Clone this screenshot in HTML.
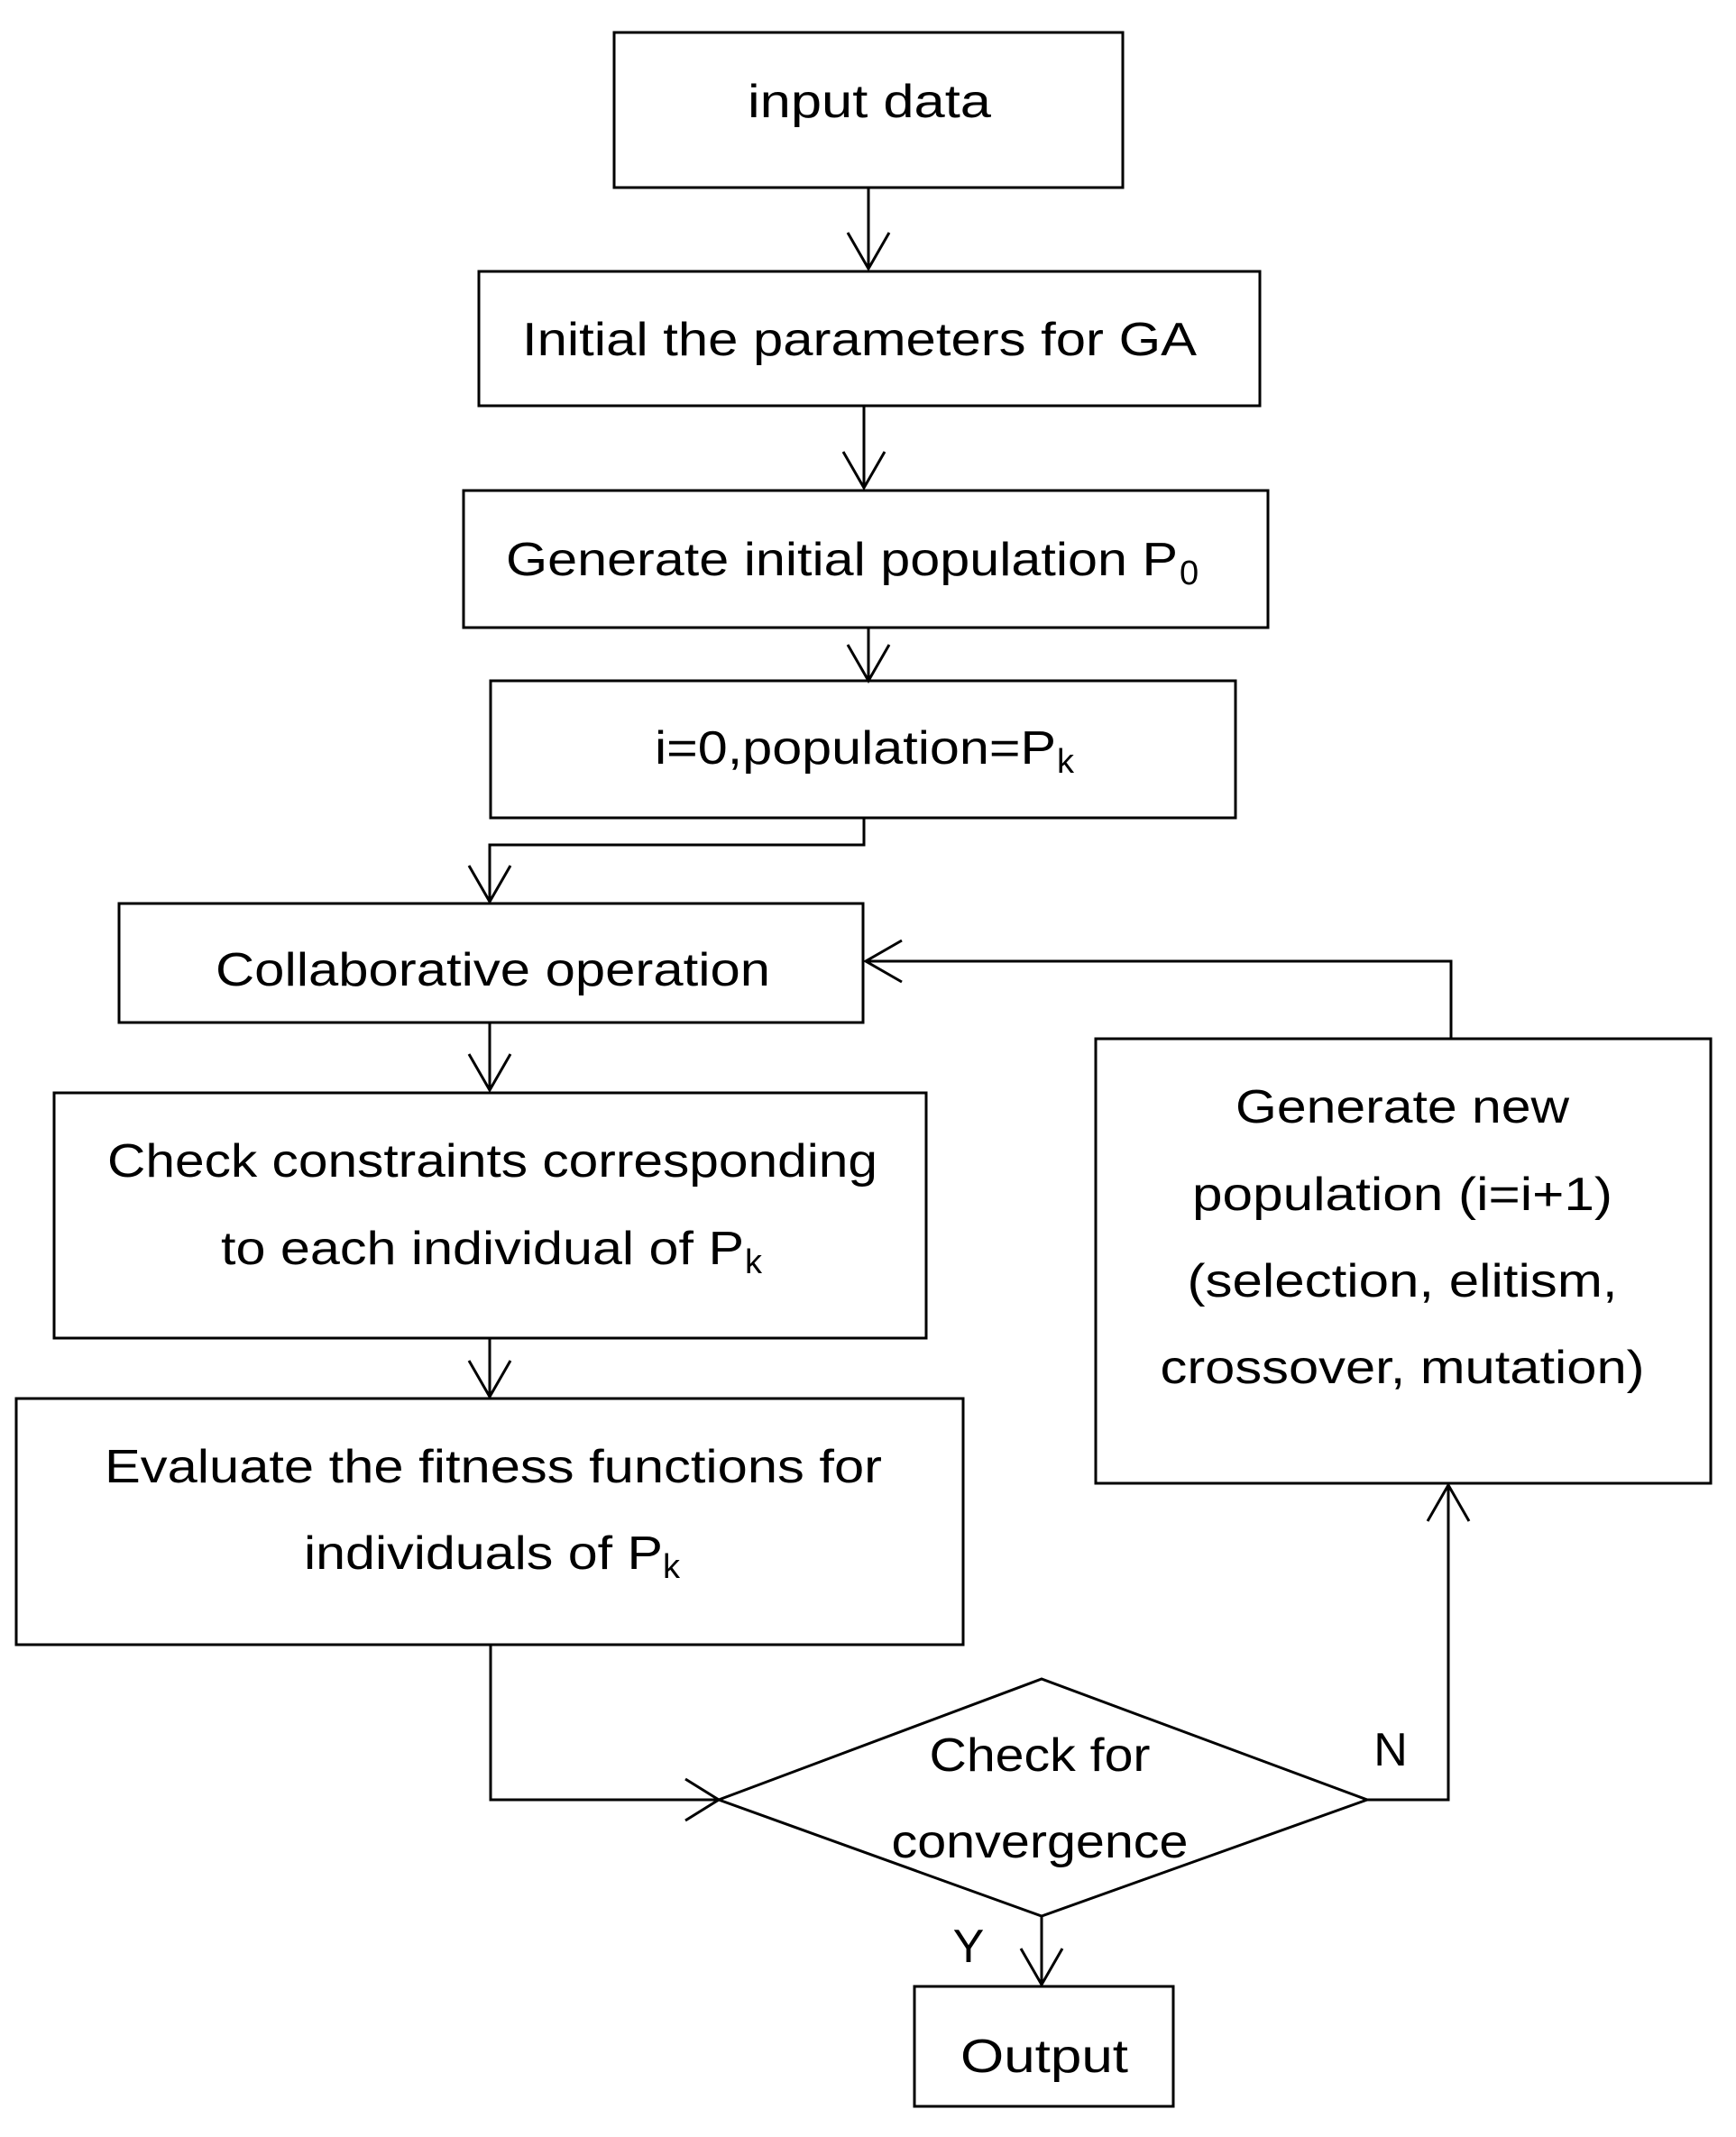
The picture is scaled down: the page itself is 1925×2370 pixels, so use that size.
<!DOCTYPE html>
<html><head><meta charset="utf-8"><style>html,body{margin:0;padding:0;background:#fff}svg{display:block}</style></head>
<body>
<svg width="1925" height="2370" viewBox="0 0 1925 2370" xmlns="http://www.w3.org/2000/svg">
<g fill="none" stroke="#000" stroke-width="3">
<rect x="681" y="36" width="564" height="172"/>
<rect x="531" y="301" width="866" height="149"/>
<rect x="514" y="544" width="892" height="152"/>
<rect x="544" y="755" width="826" height="152"/>
<rect x="132" y="1002" width="825" height="132"/>
<rect x="60" y="1212" width="967" height="272"/>
<rect x="18" y="1551" width="1050" height="273"/>
<rect x="1215" y="1152" width="682" height="493"/>
<rect x="1014" y="2203" width="287" height="133"/>
<polygon points="797,1996 1155,1862 1516,1996 1155,2125"/>
<!-- connectors -->
<line x1="963" y1="208" x2="963" y2="298"/>
<polyline points="940,258 963,298 986,258"/>
<line x1="958" y1="450" x2="958" y2="541"/>
<polyline points="935,501 958,541 981,501"/>
<line x1="963" y1="696" x2="963" y2="755"/>
<polyline points="940,715 963,755 986,715"/>
<polyline points="958,907 958,937 543,937 543,1000"/>
<polyline points="520,960 543,1000 566,960"/>
<line x1="543" y1="1134" x2="543" y2="1209"/>
<polyline points="520,1169 543,1209 566,1169"/>
<line x1="543" y1="1484" x2="543" y2="1549"/>
<polyline points="520,1509 543,1549 566,1509"/>
<polyline points="544,1824 544,1996 797,1996"/>
<polyline points="760,1973 797,1996 760,2019"/>
<polyline points="1516,1996 1606,1996 1606,1647"/>
<polyline points="1583,1687 1606,1647 1629,1687"/>
<polyline points="1609,1152 1609,1066 960,1066"/>
<polyline points="1000,1043 960,1066 1000,1089"/>
<line x1="1155" y1="2125" x2="1155" y2="2201"/>
<polyline points="1132,2161 1155,2201 1178,2161"/>
</g>
<g font-family="'Liberation Sans', sans-serif" font-size="52" fill="#000" lengthAdjust="spacingAndGlyphs">
<text x="964" y="130" text-anchor="middle" textLength="270" lengthAdjust="spacingAndGlyphs">input data</text>
<text x="953" y="394" text-anchor="middle" textLength="748" lengthAdjust="spacingAndGlyphs">Initial the parameters for GA</text>
<text x="561" y="638" textLength="745" lengthAdjust="spacingAndGlyphs">Generate initial population P</text>
<text x="1308" y="648" font-size="38">0</text>
<text x="726" y="847" textLength="445" lengthAdjust="spacingAndGlyphs">i=0,population=P</text>
<text x="1172" y="857" font-size="38">k</text>
<text x="239" y="1093" textLength="615" lengthAdjust="spacingAndGlyphs">Collaborative operation</text>
<text x="119" y="1305" textLength="854" lengthAdjust="spacingAndGlyphs">Check constraints corresponding</text>
<text x="245" y="1402" textLength="580" lengthAdjust="spacingAndGlyphs">to each individual of P</text>
<text x="826" y="1412" font-size="38">k</text>
<text x="116" y="1644" textLength="862" lengthAdjust="spacingAndGlyphs">Evaluate the fitness functions for</text>
<text x="337" y="1740" textLength="398" lengthAdjust="spacingAndGlyphs">individuals of P</text>
<text x="735" y="1750" font-size="38">k</text>
<text x="1555" y="1245" text-anchor="middle" textLength="370" lengthAdjust="spacingAndGlyphs">Generate new</text>
<text x="1555" y="1342" text-anchor="middle" textLength="466" lengthAdjust="spacingAndGlyphs">population (i=i+1)</text>
<text x="1555" y="1438" text-anchor="middle" textLength="477" lengthAdjust="spacingAndGlyphs">(selection, elitism,</text>
<text x="1555" y="1534" text-anchor="middle" textLength="537" lengthAdjust="spacingAndGlyphs">crossover, mutation)</text>
<text x="1153" y="1964" text-anchor="middle" textLength="245" lengthAdjust="spacingAndGlyphs">Check for</text>
<text x="1153" y="2060" text-anchor="middle" textLength="329" lengthAdjust="spacingAndGlyphs">convergence</text>
<text x="1158" y="2298" text-anchor="middle" textLength="186" lengthAdjust="spacingAndGlyphs">Output</text>
<text x="1542" y="1958" text-anchor="middle">N</text>
<text x="1074" y="2176" text-anchor="middle">Y</text>
</g>
</svg>
</body></html>
